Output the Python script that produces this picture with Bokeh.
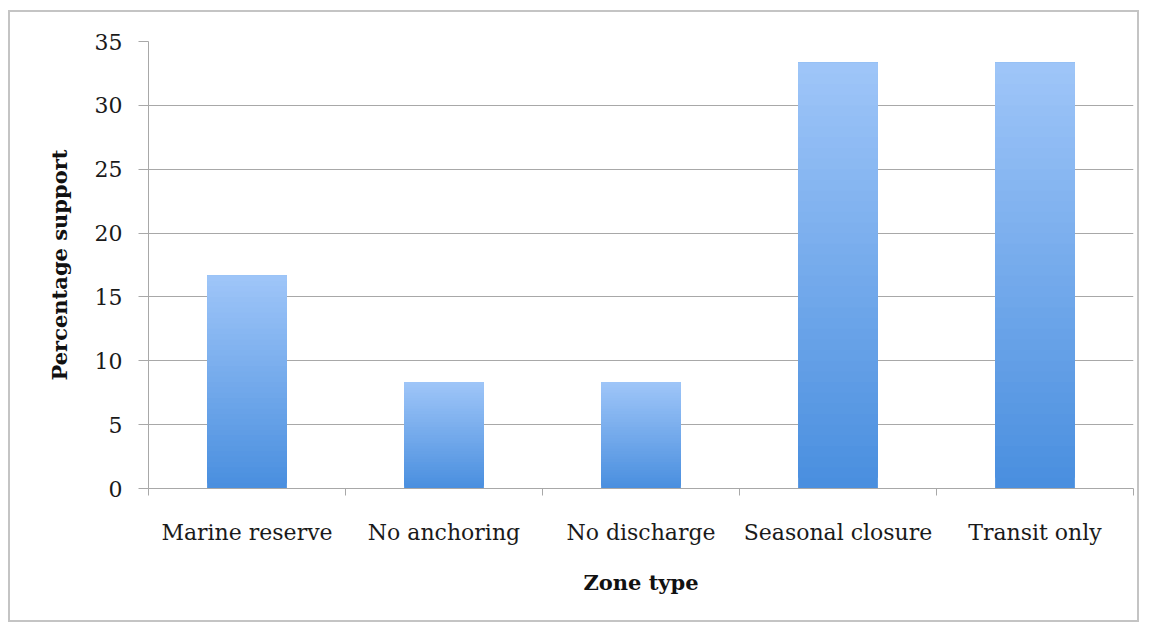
from bokeh.plotting import figure
from bokeh.models import Range1d, FixedTicker, ColumnDataSource
from bokeh.embed import file_html
from bokeh.resources import INLINE

# ---- data ----
categories = ["Marine reserve", "No anchoring", "No discharge", "Seasonal closure", "Transit only"]
support = [16.67, 8.33, 8.33, 33.33, 33.33]
y_ticks = [0, 5, 10, 15, 20, 25, 30, 35]

# ---- style ----
FONT = "DejaVu Serif"
GRID = "#a8a8a8"
top_rgb = (0x9e, 0xc5, 0xf8)
bot_rgb = (0x4a, 0x8f, 0xdf)
N_SHADES = 40
BAR_W = 0.405

p = figure(
    x_range=Range1d(0, len(categories)),
    y_range=Range1d(0, 35),
    frame_width=985, frame_height=447,
    min_border_left=138, min_border_right=4, min_border_top=29, min_border_bottom=132,
    output_backend="svg", toolbar_location=None,
)
p.styles = {"border": "2px solid #c4c4c4", "margin-left": "8px", "margin-top": "10px"}
p.outline_line_color = None
p.background_fill_color = "white"
p.border_fill_color = "white"

# gradient bars: layered, each layer covers from a fraction of the value up to the top
xs, bottoms, tops, colors = [], [], [], []
for i, v in enumerate(support):
    for k in range(N_SHADES):
        t = k / (N_SHADES - 1)
        r = round(bot_rgb[0] + (top_rgb[0] - bot_rgb[0]) * t)
        g = round(bot_rgb[1] + (top_rgb[1] - bot_rgb[1]) * t)
        b = round(bot_rgb[2] + (top_rgb[2] - bot_rgb[2]) * t)
        xs.append(i + 0.5)
        bottoms.append(v * k / N_SHADES)
        tops.append(v)
        colors.append("#%02x%02x%02x" % (r, g, b))
src = ColumnDataSource(dict(x=xs, bottom=bottoms, top=tops, color=colors))
p.vbar(x="x", bottom="bottom", top="top", width=BAR_W, fill_color="color", line_color=None, source=src)

# x axis: labels at category centres, ticks at category boundaries
xa = p.xaxis[0]
xa.ticker = FixedTicker(ticks=[i + 0.5 for i in range(len(categories))],
                        minor_ticks=list(range(len(categories) + 1)))
xa.major_label_overrides = {i + 0.5: c for i, c in enumerate(categories)}
xa.major_tick_line_color = None
xa.minor_tick_line_color = GRID
xa.minor_tick_in = 0
xa.minor_tick_out = 7
xa.axis_line_color = GRID
xa.major_label_text_font = FONT
xa.major_label_text_font_size = "22px"
xa.major_label_text_color = "#1a1a1a"
xa.major_label_standoff = 24
xa.axis_label = "Zone type"
xa.axis_label_text_font = FONT
xa.axis_label_text_font_size = "21px"
xa.axis_label_text_font_style = "bold"
xa.axis_label_text_color = "#111111"
xa.axis_label_standoff = 22

ya = p.yaxis[0]
ya.ticker = FixedTicker(ticks=y_ticks)
ya.minor_tick_line_color = None
ya.major_tick_line_color = GRID
ya.major_tick_in = 0
ya.major_tick_out = 10
ya.axis_line_color = GRID
ya.major_label_text_font = FONT
ya.major_label_text_font_size = "22px"
ya.major_label_text_color = "#1a1a1a"
ya.major_label_standoff = 16
ya.axis_label = "Percentage support"
ya.axis_label_text_font = FONT
ya.axis_label_text_font_size = "21px"
ya.axis_label_text_font_style = "bold"
ya.axis_label_text_color = "#111111"
ya.axis_label_standoff = 20

p.xgrid.grid_line_color = None
p.ygrid.ticker = FixedTicker(ticks=y_ticks)
p.ygrid.grid_line_color = GRID
p.ygrid.grid_line_width = 1

open("out.html", "w").write(file_html(p, INLINE))
